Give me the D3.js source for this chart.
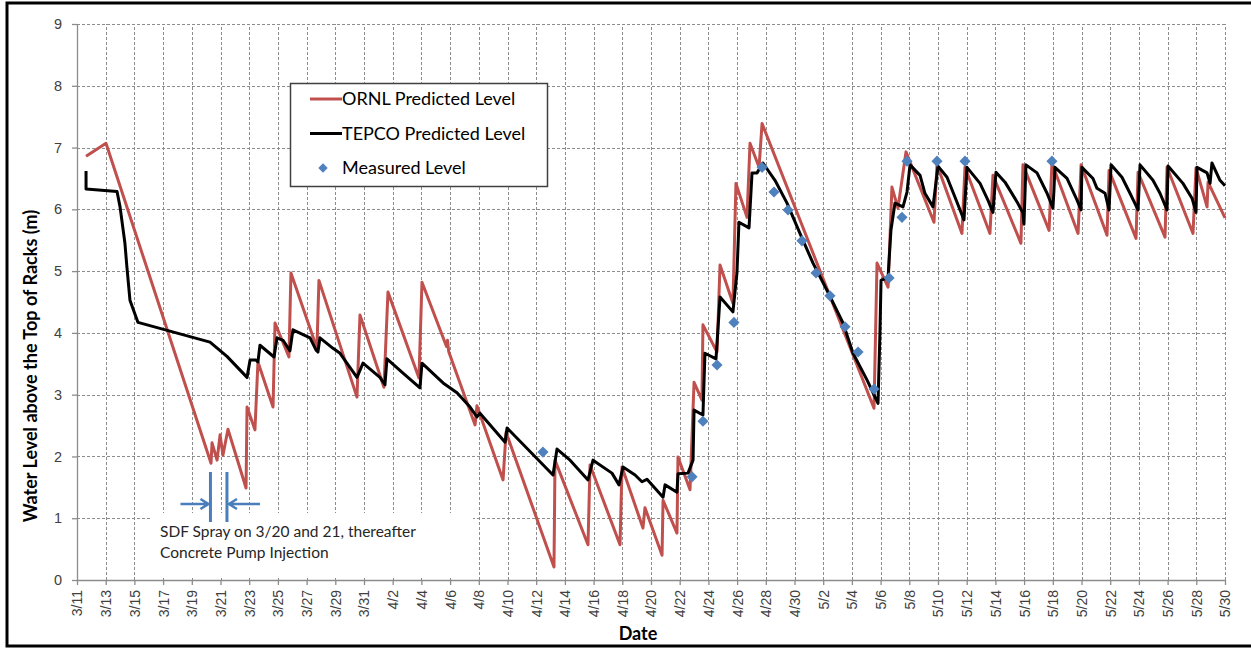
<!DOCTYPE html>
<html>
<head>
<meta charset="utf-8">
<script src="https://cdn.jsdelivr.net/npm/d3@7"></script>
<style>
  body { margin: 0; background: #fff; overflow: hidden; }
  svg { display: block; font-family: Lato, "Open Sans", sans-serif; }
</style>
</head>
<body>
<script>
// days after 3/11/2011, water level (m)
var ornlLevel = [
  [0.63, 6.86], [2.02, 7.07], [9.34, 1.89], [9.41, 2.22], [9.76, 1.94], [9.97, 2.35],
  [10.17, 2.02], [10.52, 2.44], [11.78, 1.49], [11.85, 2.80], [12.40, 2.43], [12.61, 3.53],
  [13.66, 2.80], [13.80, 4.16], [14.77, 3.61], [14.91, 4.97], [16.72, 3.75], [16.86, 4.85],
  [19.51, 2.96], [19.72, 4.29], [21.39, 3.12], [21.67, 4.66], [23.83, 3.27], [24.04, 4.82],
  [25.75, 3.78], [25.82, 3.88], [25.90, 3.70], [27.74, 2.51], [27.87, 2.82], [29.69, 1.62],
  [29.90, 2.39], [33.24, 0.21], [33.31, 1.94], [35.61, 0.57], [35.75, 1.86], [37.84, 0.57],
  [37.98, 1.83], [39.44, 0.84], [39.58, 1.17], [40.77, 0.40], [40.84, 1.29], [41.81, 0.76],
  [41.88, 1.99], [42.72, 1.46], [43.00, 3.20], [43.55, 2.91], [43.62, 4.13], [44.60, 3.69],
  [44.81, 5.10], [45.71, 4.48], [45.92, 6.42], [46.69, 5.87], [46.90, 7.07], [47.53, 6.68],
  [47.74, 7.39], [55.54, 2.78], [55.75, 5.13], [56.52, 4.74], [56.79, 6.36], [57.21, 6.02],
  [57.77, 6.93], [59.72, 5.79], [59.93, 6.72], [61.67, 5.61], [61.88, 6.68], [63.62, 5.61],
  [63.83, 6.55], [65.78, 5.45], [65.92, 6.72], [67.74, 5.66], [67.94, 6.75], [69.76, 5.61],
  [69.97, 6.72], [71.78, 5.58], [71.92, 6.63], [73.80, 5.53], [73.94, 6.60], [75.82, 5.55],
  [75.96, 6.68], [77.77, 5.61], [77.98, 6.67], [78.75, 6.04], [78.82, 6.44], [80.00, 5.86]
];

var tepcoLevel = [
  [0.63, 6.62], [0.63, 6.33], [2.79, 6.29], [3.00, 6.04], [3.34, 5.45], [3.48, 5.06],
  [3.69, 4.53], [4.25, 4.17], [9.27, 3.85], [10.45, 3.62], [11.85, 3.28], [12.06, 3.56],
  [12.47, 3.56], [12.61, 3.53], [12.75, 3.80], [13.73, 3.61], [13.94, 3.92], [14.36, 3.88],
  [14.84, 3.71], [15.05, 4.05], [16.24, 3.92], [16.66, 3.72], [16.79, 3.69], [16.93, 3.92],
  [17.84, 3.75], [18.33, 3.67], [19.51, 3.28], [19.93, 3.51], [21.11, 3.28], [21.46, 3.16],
  [21.60, 3.58], [22.72, 3.35], [23.90, 3.11], [24.04, 3.51], [25.51, 3.19], [26.48, 3.03],
  [27.39, 2.80], [27.87, 2.64], [28.08, 2.70], [29.83, 2.23], [29.97, 2.46], [33.17, 1.70],
  [33.45, 2.12], [34.36, 1.94], [35.61, 1.62], [35.96, 1.94], [37.28, 1.73], [37.77, 1.54],
  [38.05, 1.83], [38.89, 1.70], [39.37, 1.59], [39.72, 1.63], [40.84, 1.34], [40.98, 1.54],
  [41.81, 1.42], [41.88, 1.72], [42.58, 1.73], [42.93, 1.94], [43.00, 2.75], [43.62, 2.67],
  [43.76, 3.67], [44.53, 3.58], [44.81, 4.58], [45.71, 4.34], [45.99, 4.97], [46.13, 5.79],
  [46.83, 5.70], [47.04, 6.59], [47.39, 6.59], [47.80, 6.75], [48.64, 6.47], [49.48, 6.10],
  [50.38, 5.61], [51.29, 5.13], [52.26, 4.69], [53.38, 4.16], [54.08, 3.67], [55.05, 3.24],
  [55.82, 2.86], [55.96, 4.05], [56.03, 4.85], [56.52, 4.90], [56.72, 5.66], [57.00, 6.10],
  [57.56, 6.04], [57.84, 6.28], [58.05, 6.72], [58.75, 6.55], [59.09, 6.26], [59.65, 6.04],
  [60.00, 6.70], [60.63, 6.52], [61.18, 6.20], [61.81, 5.83], [62.02, 6.68], [62.93, 6.42],
  [63.48, 6.15], [63.83, 5.95], [64.04, 6.60], [64.67, 6.44], [65.51, 6.12], [65.92, 5.94],
  [65.99, 5.76], [66.13, 6.72], [66.90, 6.59], [67.60, 6.26], [68.01, 6.02], [68.08, 6.31],
  [68.15, 6.68], [68.99, 6.50], [69.69, 6.15], [69.97, 5.99], [70.03, 6.68], [70.80, 6.50],
  [71.08, 6.34], [71.64, 6.26], [71.92, 5.99], [72.06, 6.72], [72.82, 6.52], [73.38, 6.26],
  [73.94, 5.99], [74.08, 6.72], [74.98, 6.47], [75.47, 6.26], [75.96, 5.99], [76.03, 6.70],
  [77.07, 6.42], [77.70, 6.18], [77.98, 5.95], [78.05, 6.68], [78.75, 6.59], [78.96, 6.42],
  [79.09, 6.75], [79.65, 6.47], [80.00, 6.38]
];

var measuredLevel = [
  [32.47, 2.07], [42.86, 1.67], [43.62, 2.57], [44.60, 3.48], [45.78, 4.17], [47.74, 6.68],
  [48.57, 6.28], [49.55, 5.99], [50.52, 5.49], [51.50, 4.97], [52.47, 4.60], [53.52, 4.10],
  [54.43, 3.69], [55.54, 3.09], [56.59, 4.89], [57.49, 5.87], [57.84, 6.78], [59.93, 6.78],
  [61.88, 6.78], [67.94, 6.78]
];

var tickDays = d3.range(0, 81, 2);           // 3/11 ... 5/30
var levelTicks = d3.range(0, 10, 1);         // 0 ... 9
var sprayDays = [9.3, 10.45];                // SDF spray markers (3/20, 3/21)
var legendNames = ["ORNL Predicted Level", "TEPCO Predicted Level", "Measured Level"];
var noteLines = ["SDF Spray on 3/20 and 21, thereafter", "Concrete Pump Injection"];

var width = 1251, height = 648;
var start = Date.UTC(2011, 2, 11);
function day(d) { return new Date(start + d * 864e5); }

var svg = d3.select("body").append("svg")
  .attr("width", width)
  .attr("height", height);

// frame (right edge falls outside the picture)
svg.append("rect")
  .attr("x", 7).attr("y", 3)
  .attr("width", 1280).attr("height", 643)
  .attr("fill", "#fff")
  .attr("stroke", "#000")
  .attr("stroke-width", 3);

var x = d3.scaleUtc()
  .domain([day(0), day(80)])
  .range([77, 1225]);
var y = d3.scaleLinear()
  .domain([0, 9])
  .range([580, 24]);

// diamond marker: square turned 45 degrees
var diamond = d3.symbol(d3.symbolSquare, 62);

// grid
var grid = svg.append("g")
  .attr("stroke", "#8c8c8c")
  .attr("stroke-width", 1)
  .attr("stroke-dasharray", "3,2");
grid.selectAll(".vg")
  .data(tickDays.filter(d => d > 0))
  .enter().append("line")
    .attr("x1", d => Math.round(x(day(d))) + 0.5)
    .attr("x2", d => Math.round(x(day(d))) + 0.5)
    .attr("y1", y(0)).attr("y2", y(9));
grid.selectAll(".hg")
  .data(levelTicks.filter(d => d > 0))
  .enter().append("line")
    .attr("y1", d => Math.round(y(d)) + 0.5)
    .attr("y2", d => Math.round(y(d)) + 0.5)
    .attr("x1", x(day(0))).attr("x2", x(day(80)));

// white box behind the annotation
svg.append("rect")
  .attr("x", 150).attr("y", 513)
  .attr("width", 323).attr("height", 65)
  .attr("fill", "#fff");

// axes
var xAxis = svg.append("g")
  .attr("transform", "translate(0," + y(0) + ")")
  .call(d3.axisBottom(x)
    .tickValues(tickDays.map(day))
    .tickFormat(d3.utcFormat("%-m/%-d"))
    .tickSize(5)
    .tickSizeOuter(0));
xAxis.selectAll("text")
  .attr("transform", "rotate(-90)")
  .attr("x", -10).attr("y", 0)
  .attr("dy", "0.35em")
  .style("text-anchor", "end")
  .style("font-size", "14px")
  .attr("fill", "#404040");

var yAxis = svg.append("g")
  .attr("transform", "translate(" + x(day(0)) + ",0)")
  .call(d3.axisLeft(y)
    .tickValues(levelTicks)
    .tickSize(5)
    .tickPadding(10)
    .tickSizeOuter(0));
yAxis.selectAll("text")
  .style("font-size", "14.5px")
  .attr("fill", "#404040");
svg.selectAll(".domain, .tick line")
  .attr("stroke", "#8c8c8c")
  .attr("stroke-width", 1.3);
svg.selectAll(".tick").attr("font-family", null);

// series
var line = d3.line()
  .x(d => x(day(d[0])))
  .y(d => y(d[1]));

svg.append("path")
  .datum(ornlLevel)
  .attr("d", line)
  .attr("fill", "none")
  .attr("stroke", "#c0504d")
  .attr("stroke-width", 3)
  .attr("stroke-linejoin", "round");

svg.append("path")
  .datum(tepcoLevel)
  .attr("d", line)
  .attr("fill", "none")
  .attr("stroke", "#000")
  .attr("stroke-width", 3)
  .attr("stroke-linejoin", "round");

svg.selectAll(".meas")
  .data(measuredLevel)
  .enter().append("path")
    .attr("d", diamond)
    .attr("transform", d => "translate(" + x(day(d[0])) + "," + y(d[1]) + ") rotate(45)")
    .attr("fill", "#4f81bd");

// spray markers and arrows
var blue = "#4a7ebb";
var sx = sprayDays.map(d => x(day(d)));
svg.selectAll(".spray")
  .data(sx)
  .enter().append("line")
    .attr("x1", d => d).attr("x2", d => d)
    .attr("y1", 472).attr("y2", 522)
    .attr("stroke", blue)
    .attr("stroke-width", 3);
var arrows = svg.append("g")
  .attr("fill", "none")
  .attr("stroke", blue)
  .attr("stroke-width", 2.5);
arrows.append("path")
  .attr("d", "M" + (sx[0] - 30) + ",504H" + (sx[0] - 2) +
             "M" + (sx[0] - 10) + ",499L" + (sx[0] - 2) + ",504L" + (sx[0] - 10) + ",509");
arrows.append("path")
  .attr("d", "M" + (sx[1] + 33) + ",504H" + (sx[1] + 2) +
             "M" + (sx[1] + 10) + ",499L" + (sx[1] + 2) + ",504L" + (sx[1] + 10) + ",509");

svg.selectAll(".note")
  .data(noteLines)
  .enter().append("text")
    .attr("x", 160)
    .attr("y", (d, i) => 537 + i * 21)
    .attr("font-size", "15.5px")
    .attr("fill", "#262626")
    .text(d => d);

// axis titles
svg.append("text")
  .attr("transform", "translate(37,366) rotate(-90)")
  .attr("text-anchor", "middle")
  .attr("font-size", "18px")
  .attr("font-weight", "bold")
  .attr("fill", "#000")
  .text("Water Level above the Top of Racks (m)");

svg.append("text")
  .attr("x", 638).attr("y", 640)
  .attr("text-anchor", "middle")
  .attr("font-size", "18px")
  .attr("font-weight", "bold")
  .attr("fill", "#000")
  .text("Date");

// legend
var legend = svg.append("g");
legend.append("rect")
  .attr("x", 290.5).attr("y", 83.5)
  .attr("width", 257).attr("height", 103)
  .attr("fill", "#fff")
  .attr("stroke", "#404040")
  .attr("stroke-width", 1.5);
var items = legend.selectAll(".item")
  .data(legendNames)
  .enter().append("g")
    .attr("transform", (d, i) => "translate(0," + (99 + i * 34.5) + ")");
items.filter((d, i) => i < 2).append("line")
  .attr("x1", 310).attr("x2", 342)
  .attr("stroke", (d, i) => i === 0 ? "#c0504d" : "#000")
  .attr("stroke-width", 3);
items.filter((d, i) => i === 2).append("path")
  .attr("d", d3.symbol(d3.symbolSquare, 44))
  .attr("transform", "translate(323,0) rotate(45)")
  .attr("fill", "#4f81bd");
items.append("text")
  .attr("x", 342)
  .attr("dy", "0.35em")
  .attr("font-size", "18px")
  .attr("fill", "#000")
  .text(d => d);
</script>
</body>
</html>
